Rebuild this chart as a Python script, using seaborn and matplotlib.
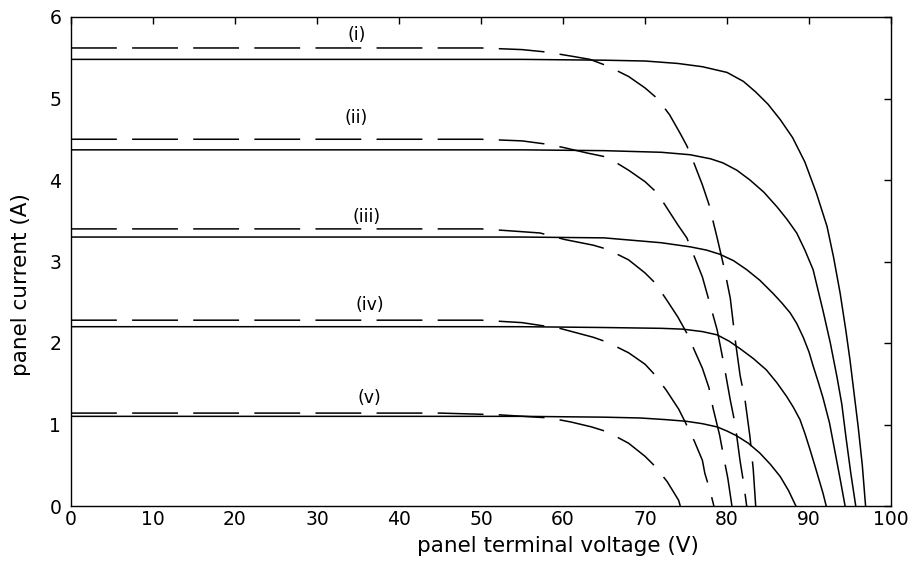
import numpy as np
import pandas as pd
import matplotlib
matplotlib.use("Agg")
import matplotlib.pyplot as plt
import seaborn as sns

# ---- data (V in volts, I in amps) ----
solid_i_v = [0, 55, 65, 70, 74, 77, 80, 82, 83.5, 85, 86.5, 88, 89.5, 90.9, 92.2, 93.0, 93.8, 94.5, 95.0, 95.5, 96.0, 96.5, 96.9]
solid_i_i = [5.48, 5.48, 5.47, 5.46, 5.43, 5.39, 5.32, 5.21, 5.08, 4.93, 4.74, 4.52, 4.22, 3.84, 3.43, 3.05, 2.61, 2.15, 1.79, 1.38, 0.97, 0.50, 0.0]

solid_ii_v = [0, 55, 65, 72, 75.5, 78, 79.5, 81.2, 82.8, 84.5, 86.1, 87.3, 88.5, 89.5, 90.5, 91.7, 92.6, 93.4, 94.0, 94.5, 95.1, 95.7]
solid_ii_i = [4.37, 4.37, 4.36, 4.34, 4.31, 4.26, 4.21, 4.12, 4.00, 3.85, 3.67, 3.52, 3.35, 3.14, 2.90, 2.40, 2.00, 1.59, 1.25, 0.85, 0.40, 0.0]

solid_iii_v = [0, 55, 65, 72, 75.5, 77.5, 79.1, 80.8, 82.4, 84.0, 85.6, 86.7, 87.7, 88.5, 89.3, 90.0, 90.5, 91.1, 91.7, 92.5, 93.2, 93.8, 94.4]
solid_iii_i = [3.30, 3.30, 3.29, 3.23, 3.18, 3.14, 3.09, 3.01, 2.90, 2.77, 2.61, 2.49, 2.37, 2.24, 2.07, 1.89, 1.72, 1.53, 1.33, 1.02, 0.65, 0.33, 0.0]

solid_iv_v = [0, 55, 65, 72, 74.6, 77, 78.8, 80.3, 81.6, 83.2, 84.8, 86.1, 87.3, 88.1, 88.9, 89.5, 90.1, 90.7, 91.2, 91.7, 92.1]
solid_iv_i = [2.20, 2.20, 2.19, 2.18, 2.17, 2.14, 2.10, 2.02, 1.93, 1.81, 1.67, 1.51, 1.34, 1.21, 1.06, 0.89, 0.70, 0.50, 0.33, 0.16, 0.0]

solid_v_v = [0, 55, 65, 69.4, 72.5, 75.0, 77.0, 78.8, 80.0, 81.2, 82.6, 84.0, 85.3, 86.5, 87.5, 88.4]
solid_v_i = [1.10, 1.10, 1.09, 1.08, 1.06, 1.04, 1.01, 0.97, 0.92, 0.86, 0.77, 0.65, 0.51, 0.36, 0.19, 0.0]

dash_i_v = [0, 50, 55, 58, 61, 63.3, 65.4, 68, 70, 71.5, 73, 74.3, 75.1, 76, 77, 77.8, 78.8, 79.7, 80.4, 81.0, 81.6, 82.2, 82.8, 83.2, 83.5]
dash_i_i = [5.62, 5.62, 5.60, 5.57, 5.52, 5.48, 5.40, 5.27, 5.13, 5.00, 4.80, 4.57, 4.42, 4.20, 3.94, 3.70, 3.29, 2.90, 2.55, 2.04, 1.60, 1.30, 0.85, 0.45, 0.0]

dash_ii_v = [0, 50, 55, 58, 60, 63, 65.4, 68, 70, 71.5, 74, 75.1, 77, 78, 78.8, 79.6, 80.4, 81.0, 81.6, 82.0, 82.4]
dash_ii_i = [4.50, 4.50, 4.48, 4.44, 4.40, 4.33, 4.28, 4.12, 3.98, 3.84, 3.45, 3.29, 2.81, 2.45, 2.16, 1.75, 1.30, 1.00, 0.55, 0.30, 0.0]

dash_iii_v = [0, 50, 53, 57.2, 60.2, 63.7, 65.4, 68, 70, 71.2, 72.5, 74, 75.1, 77, 77.8, 78.3, 79.1, 79.6, 80.1, 80.6]
dash_iii_i = [3.40, 3.40, 3.38, 3.35, 3.27, 3.20, 3.15, 3.02, 2.86, 2.74, 2.55, 2.32, 2.12, 1.69, 1.45, 1.20, 0.87, 0.60, 0.34, 0.0]

dash_iv_v = [0, 50, 55, 59.6, 63.7, 65.4, 68, 70, 71.2, 72.6, 74.1, 74.9, 76, 77, 77.3, 77.9, 78.4]
dash_iv_i = [2.28, 2.28, 2.25, 2.18, 2.07, 2.01, 1.88, 1.74, 1.61, 1.42, 1.19, 1.03, 0.80, 0.56, 0.40, 0.20, 0.0]

dash_v_v = [0, 45, 52, 58.4, 61, 63.5, 65.4, 68, 70, 71.2, 72.7, 74.1, 74.3]
dash_v_i = [1.14, 1.14, 1.12, 1.08, 1.03, 0.97, 0.91, 0.77, 0.61, 0.49, 0.30, 0.07, 0.0]

curve_labels = ["(i)", "(ii)", "(iii)", "(iv)", "(v)"]
label_v = [34.8, 34.8, 36.0, 36.4, 36.4]
label_i = [5.78, 4.76, 3.55, 2.47, 1.33]

xticks = [0, 10, 20, 30, 40, 50, 60, 70, 80, 90, 100]
yticks = [0, 1, 2, 3, 4, 5, 6]

# ---- build long table ----
curves = [
    ("s_i", "solid", solid_i_v, solid_i_i),
    ("s_ii", "solid", solid_ii_v, solid_ii_i),
    ("s_iii", "solid", solid_iii_v, solid_iii_i),
    ("s_iv", "solid", solid_iv_v, solid_iv_i),
    ("s_v", "solid", solid_v_v, solid_v_i),
    ("d_i", "dashed", dash_i_v, dash_i_i),
    ("d_ii", "dashed", dash_ii_v, dash_ii_i),
    ("d_iii", "dashed", dash_iii_v, dash_iii_i),
    ("d_iv", "dashed", dash_iv_v, dash_iv_i),
    ("d_v", "dashed", dash_v_v, dash_v_i),
]
rows = []
for name, sty, vv, ii in curves:
    for k, (a, b) in enumerate(zip(vv, ii)):
        rows.append({"curve": name, "kind": sty, "V": a, "I": b, "order": k})
df = pd.DataFrame(rows)

sns.set_theme(style="white")
plt.rcParams["font.family"] = ["DejaVu Sans"]

fig = plt.figure(figsize=(9.16, 5.62), dpi=100)
ax = fig.add_axes([71 / 916, 56 / 562, 820 / 916, 489 / 562])

sns.lineplot(data=df, x="V", y="I", units="curve", style="kind",
             dashes={"solid": "", "dashed": (30, 10)},
             estimator=None, sort=False, color="black", linewidth=1.1,
             legend=False, ax=ax)

for t, xv, yv in zip(curve_labels, label_v, label_i):
    ax.text(xv, yv, t, ha="center", va="center", fontsize=12.5, color="black")

ax.set_xlim(0, 100)
ax.set_ylim(0, 6)
ax.set_xticks(xticks)
ax.set_yticks(yticks)
ax.set_xticklabels([str(t) for t in xticks])
ax.set_yticklabels([str(t) for t in yticks])
ax.tick_params(direction="in", length=5, width=1, top=True, right=True,
               labelsize=13.5, colors="black")
ax.tick_params(axis="x", pad=3)
ax.tick_params(axis="y", pad=7)
for s in ax.spines.values():
    s.set_color("black")
    s.set_linewidth(1.0)
    s.set_visible(True)
ax.set_xlabel("panel terminal voltage (V)", fontsize=15.5, color="black")
ax.set_ylabel("panel current (A)", fontsize=15.5, color="black")
ax.xaxis.set_label_coords((558 - 71) / 820, -(536 - 506) / 489)
ax.yaxis.set_label_coords(-(71 - 31) / 820, (506 - 285) / 489)

fig.savefig("out.png", dpi=100, facecolor="white")
